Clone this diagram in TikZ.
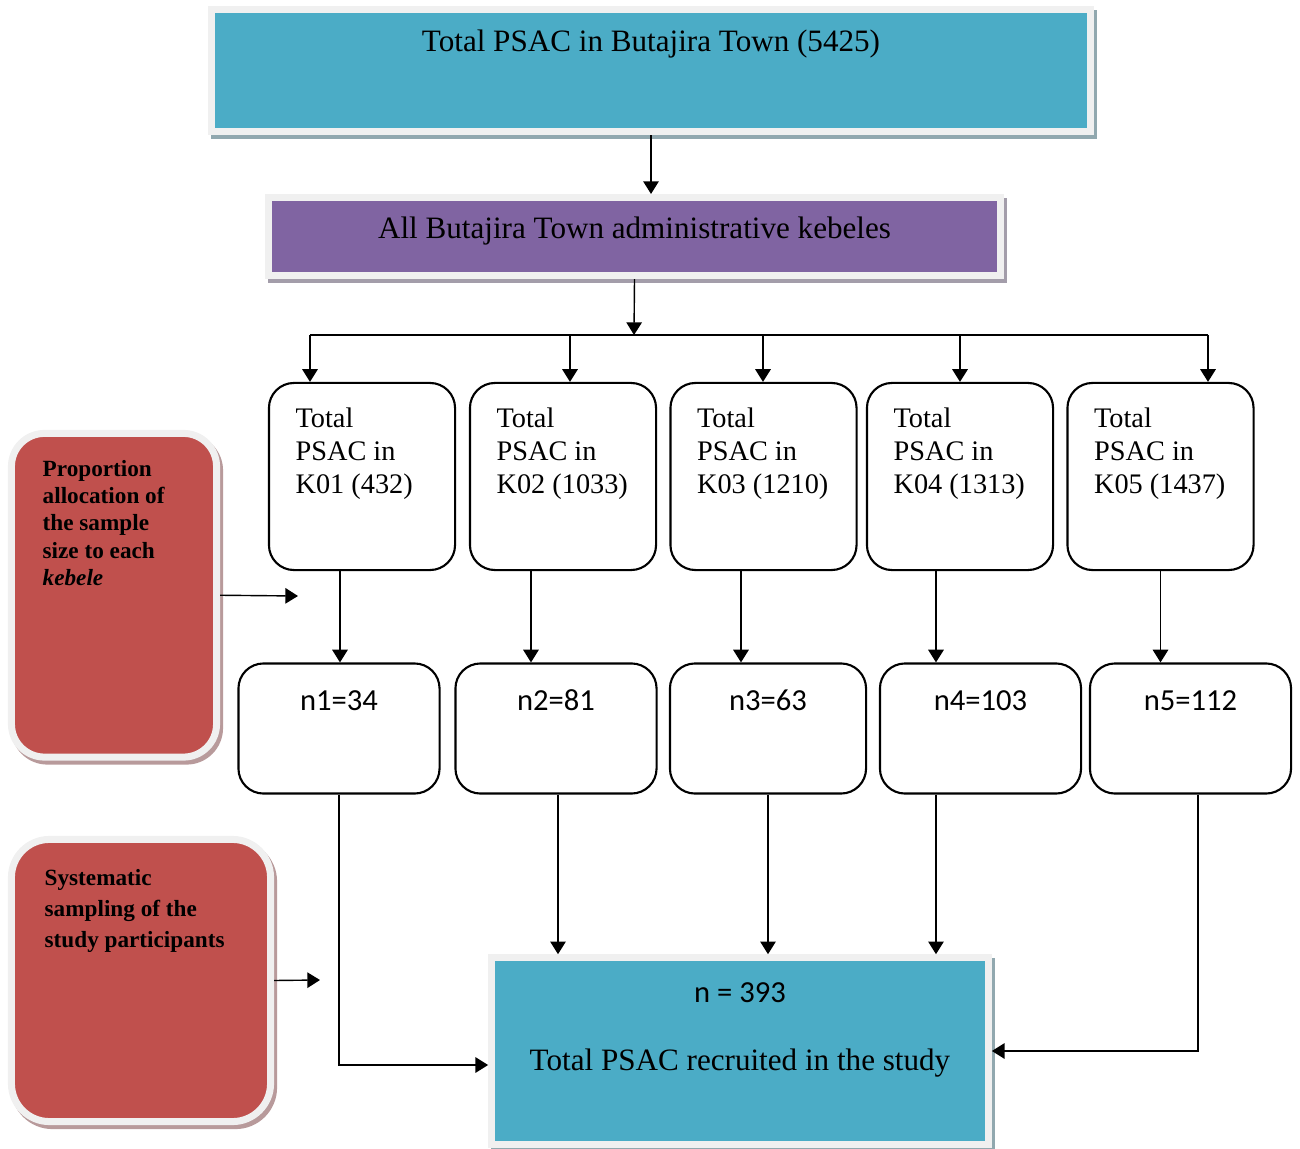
\documentclass[tikz,border=0pt]{standalone}
\usepackage{fontspec}
\setmainfont{Liberation Serif}
\newfontfamily\calibri{Carlito}
\usetikzlibrary{arrows.meta,calc}
\definecolor{psacblue}{HTML}{4BACC6}
\definecolor{kebelepurple}{HTML}{8064A2}
\definecolor{methodred}{HTML}{C0504D}
\definecolor{framegray}{HTML}{F0F0F0}
\definecolor{blueshade}{HTML}{91A8AF}
\definecolor{purpleshade}{HTML}{A39DAA}
\definecolor{redshade}{HTML}{B89A9B}
\tikzset{>={Triangle[length=3.6pt,width=4.4pt]}}
\tikzset{
  framed/.style={draw=framegray, line width=0.07cm,
    preaction={fill=#1, draw=#1, line width=0.07cm,
      transform canvas={shift={(0.03cm,-0.04cm)}}}},
  kebelebox/.style={draw, line width=0.6pt, rounded corners=0.25cm,
    minimum width=1.86cm, minimum height=1.87cm, inner sep=0},
  samplebox/.style={draw, line width=0.6pt, rounded corners=0.25cm,
    minimum width=2.01cm, minimum height=1.30cm, inner sep=0},
  bigtext/.style={inner sep=0, font=\fontsize{8.85}{10.6}\selectfont},
  kebeletext/.style={inner sep=0, align=left, anchor=north west,
    font=\fontsize{8.05}{9.4}\selectfont},
  sizetext/.style={inner sep=0, anchor=base, font=\calibri\fontsize{8.7}{10.4}\selectfont},
  methodtext/.style={inner sep=0, align=left, anchor=north west,
    font=\bfseries\fontsize{6.6}{#1}\selectfont}
}

\begin{document}
\begin{tikzpicture}[x=0.01cm,y=-0.01cm]
  \useasboundingbox (0,0) rectangle (1300,1149);
  % town and kebeles
  \node[framed=blueshade, fill=psacblue, minimum width=8.79cm, minimum height=1.22cm, inner sep=0] (total) at (651,70.5) {};
  \node[bigtext, anchor=base] (totaltext) at (651,52) {Total PSAC in Butajira Town (5425)};
  \node[framed=purpleshade, fill=kebelepurple, minimum width=7.32cm, minimum height=0.78cm, inner sep=0] (kebeles) at (634.5,236.5) {};
  \node[bigtext, anchor=base] (kebelestext) at (634.5,239) {All Butajira Town administrative kebeles};
  \draw[->] (total.south) -- (total.south |- kebeles.north);

  % kebele totals
  \node[kebelebox] (k1) at (362,476.5) {};
  \node[kebelebox] (k2) at (563,476.5) {};
  \node[kebelebox] (k3) at (763.5,476.5) {};
  \node[kebelebox] (k4) at (960,476.5) {};
  \node[kebelebox] (k5) at (1160.5,476.5) {};
  \node[kebeletext] (k1text) at ([shift={(0.27cm,-0.25cm)}]k1.north west) {Total\\PSAC in\\K01 (432)};
  \node[kebeletext] (k2text) at ([shift={(0.27cm,-0.25cm)}]k2.north west) {Total\\PSAC in\\K02 (1033)};
  \node[kebeletext] (k3text) at ([shift={(0.27cm,-0.25cm)}]k3.north west) {Total\\PSAC in\\K03 (1210)};
  \node[kebeletext] (k4text) at ([shift={(0.27cm,-0.25cm)}]k4.north west) {Total\\PSAC in\\K04 (1313)};
  \node[kebeletext] (k5text) at ([shift={(0.27cm,-0.25cm)}]k5.north west) {Total\\PSAC in\\K05 (1437)};

  % split to the kebeles
  \coordinate (bus) at (634,335);
  \coordinate (b1) at (310,335);
  \coordinate (b2) at (570,335);
  \coordinate (b3) at (763,335);
  \coordinate (b4) at (960,335);
  \coordinate (b5) at (1208,335);
  \draw[->] (kebeles.south) -- (bus);
  \draw (b1) -- (b5);
  \draw[->] (b1) -- (b1 |- k1.north);
  \draw[->] (b2) -- (b2 |- k2.north);
  \draw[->] (b3) -- (b3 |- k3.north);
  \draw[->] (b4) -- (b4 |- k4.north);
  \draw[->] (b5) -- (b5 |- k5.north);

  % sample sizes
  \node[samplebox] (n1) at (339,728.5) {};
  \node[samplebox] (n2) at (556,728.5) {};
  \node[samplebox, minimum width=1.96cm] (n3) at (768,728.5) {};
  \node[samplebox] (n4) at (980.5,728.5) {};
  \node[samplebox] (n5) at (1190.5,728.5) {};
  \node[sizetext] (n1text) at (339,710) {n1=34};
  \node[sizetext] (n2text) at (556,710) {n2=81};
  \node[sizetext] (n3text) at (768,710) {n3=63};
  \node[sizetext] (n4text) at (980.5,710) {n4=103};
  \node[sizetext] (n5text) at (1190.5,710) {n5=112};
  \draw[->] ([xshift=-0.22cm]k1.south) -- ([xshift=-0.22cm]k1.south |- n1.north);
  \draw[->] ([xshift=-0.32cm]k2.south) -- ([xshift=-0.32cm]k2.south |- n2.north);
  \draw[->] ([xshift=-0.225cm]k3.south) -- ([xshift=-0.225cm]k3.south |- n3.north);
  \draw[->] ([xshift=-0.24cm]k4.south) -- ([xshift=-0.24cm]k4.south |- n4.north);
  \draw[->] (k5.south) -- (k5.south |- n5.north);

  % recruited
  \node[framed=blueshade, fill=psacblue, minimum width=4.965cm, minimum height=1.865cm, inner sep=0] (final) at (740,1051) {};
  \node[sizetext] (finaln) at (740,1002) {n = 393};
  \node[bigtext, anchor=base] (finaltext) at (740,1070) {Total PSAC recruited in the study};
  \draw[->] (n1.south) |- ([yshift=-0.14cm]final.west);
  \draw[->] ([xshift=0.02cm]n2.south) -- ([xshift=0.02cm]n2.south |- final.north);
  \draw[->] (n3.south) -- (n3.south |- final.north);
  \draw[->] ([xshift=-0.445cm]n4.south) -- ([xshift=-0.445cm]n4.south |- final.north);
  \draw[->] ([xshift=0.075cm]n5.south) |- (final.east);

  % sampling methods
  \node[framed=redshade, fill=methodred, rounded corners=0.33cm, minimum width=2.05cm, minimum height=3.235cm, inner sep=0] (propbox) at (114,595.25) {};
  \node[methodtext=7.7] (proptext) at (42,460) {Proportion\\allocation of\\the sample\\size to each\\\textit{kebele}};
  \node[framed=redshade, fill=methodred, rounded corners=0.38cm, minimum width=2.59cm, minimum height=2.82cm, inner sep=0] (sysbox) at (141,980.5) {};
  \node[methodtext=8.8] (systext) at (44,869) {Systematic\\sampling of the\\study participants};
  \coordinate (alloc) at (298,596);
  \coordinate (syst) at (320,980);
  \draw[->] (propbox.east) -- (alloc);
  \draw[->] (sysbox.east) -- (syst);
\end{tikzpicture}
\end{document}
